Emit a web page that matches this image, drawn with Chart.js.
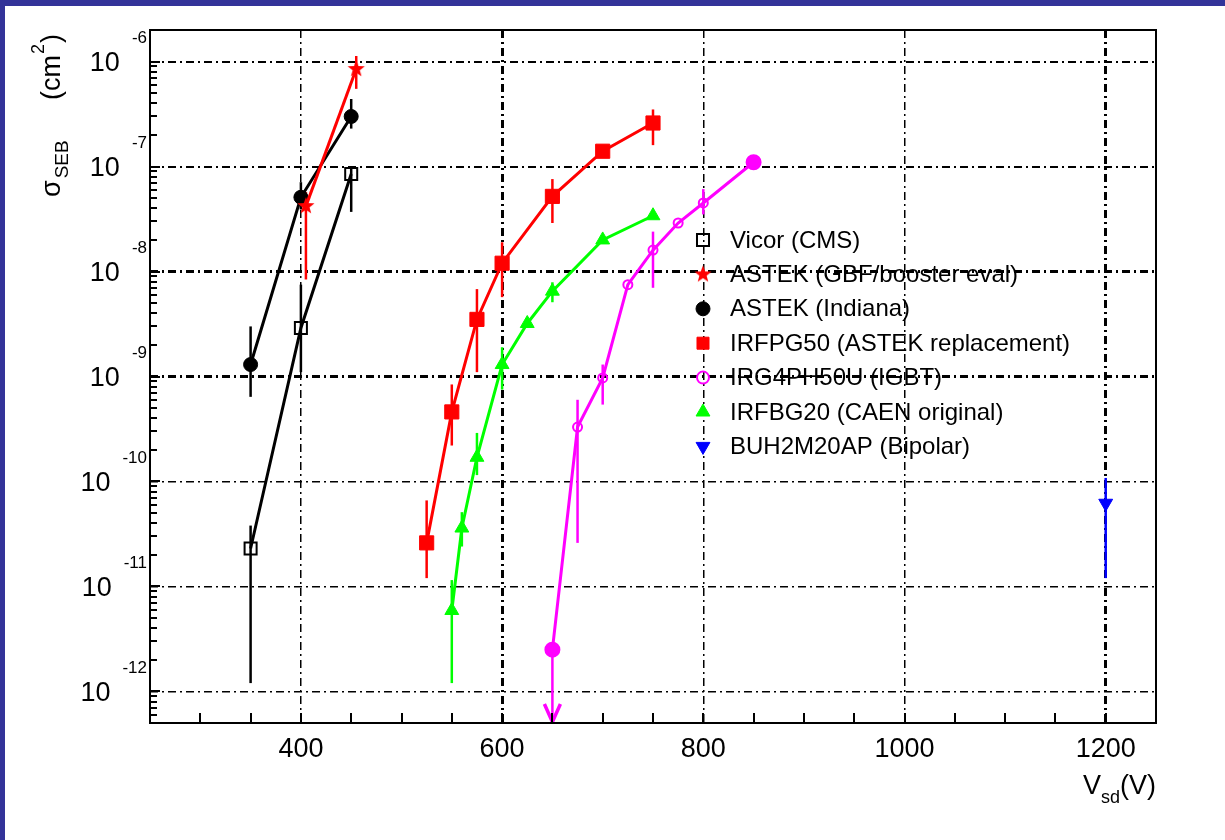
<!DOCTYPE html>
<html>
<head>
<meta charset="utf-8">
<script src="https://cdn.jsdelivr.net/npm/chart.js"></script>
<style>
  body { margin: 0; background: #333399; width: 1225px; height: 840px; overflow: hidden; }
  #paper { position: absolute; left: 5px; top: 6px; width: 1220px; height: 834px; background: #fff; }
  #c { position: absolute; left: 0; top: 0; }
</style>
</head>
<body>
<div id="paper"></div>
<canvas id="c" width="1225" height="840"></canvas>
<script>
// ---- data (sigma in cm^2, V in volts) ----
const vicorV = [350, 400, 450];
const vicorSigma = [2.3e-11, 2.9e-9, 8.5e-8];
const vicorHi = [3.8e-11, 7.5e-9, 1.0e-7];
const vicorLo = [1.2e-12, 1.1e-9, 3.7e-8];

const gbfV = [405, 455];
const gbfSigma = [4.2e-8, 8.5e-7];
const gbfHi = [5.7e-8, 1.13e-6];
const gbfLo = [8.4e-9, 5.5e-7];

const indianaV = [350, 400, 450];
const indianaSigma = [1.3e-9, 5.1e-8, 3.0e-7];
const indianaHi = [3.0e-9, 7.1e-8, 4.4e-7];
const indianaLo = [6.4e-10, 3.9e-8, 2.3e-7];

const pg50V = [525, 550, 575, 600, 650, 700, 750];
const pg50Sigma = [2.6e-11, 4.6e-10, 3.5e-9, 1.2e-8, 5.2e-8, 1.4e-7, 2.6e-7];
const pg50Hi = [6.6e-11, 8.4e-10, 6.8e-9, 1.9e-8, 7.6e-8, null, 3.5e-7];
const pg50Lo = [1.2e-11, 2.2e-10, 1.1e-9, 5.7e-9, 2.9e-8, null, 1.6e-7];

const igbtV = [650, 675, 700, 725, 750, 775, 800, 850];
const igbtSigma = [2.5e-12, 3.3e-10, 9.7e-10, 7.5e-9, 1.6e-8, 2.9e-8, 4.5e-8, 1.1e-7];
const igbtHi = [null, 6.0e-10, 1.3e-9, null, 2.4e-8, null, 6.1e-8, null];
const igbtLo = [0, 2.6e-11, 5.4e-10, null, 7.0e-9, null, 3.5e-8, null]; // 0 = upper limit arrow

const bg20V = [550, 560, 575, 600, 625, 650, 700, 750];
const bg20Sigma = [5.9e-12, 3.6e-11, 1.7e-10, 1.3e-9, 3.2e-9, 6.5e-9, 2.0e-8, 3.4e-8];
const bg20Hi = [1.15e-11, 5.1e-11, 2.9e-10, 1.9e-9, null, 7.9e-9, null, null];
const bg20Lo = [1.2e-12, 2.4e-11, 1.15e-10, 7.5e-10, null, 5.1e-9, null, null];

const bipolarV = [1200];
const bipolarSigma = [6.2e-11];
const bipolarHi = [1.08e-10];
const bipolarLo = [1.2e-11];

const xMajor = [400, 600, 800, 1000, 1200];
const yDecades = [-12, -11, -10, -9, -8, -7, -6];

const FONT = "'Liberation Sans', Arial, sans-serif";

function pts(xs, ys) {
  return xs.map((x, i) => ({x: x, y: ys[i]}));
}

// filled star marker (ROOT style 29)
function starImage(color, r) {
  const c = document.createElement('canvas');
  c.width = c.height = r * 2 + 2;
  const g = c.getContext('2d');
  g.fillStyle = color;
  g.beginPath();
  for (let i = 0; i < 10; i++) {
    const rr = i % 2 ? r * 0.42 : r;
    const a = -Math.PI / 2 + i * Math.PI / 5;
    g.lineTo(r + 1 + rr * Math.cos(a), r + 1 + rr * Math.sin(a));
  }
  g.closePath();
  g.fill();
  return c;
}
const redStar = starImage('#ff0000', 9);

const datasets = [
  {label: 'Vicor (CMS)', data: pts(vicorV, vicorSigma), errHi: vicorHi, errLo: vicorLo,
   borderColor: '#000', pointStyle: 'rect', pointRadius: 8.5, pointBorderWidth: 2,
   pointBackgroundColor: 'rgba(0,0,0,0)', pointBorderColor: '#000'},
  {label: 'ASTEK (GBF/booster eval)', data: pts(gbfV, gbfSigma), errHi: gbfHi, errLo: gbfLo,
   borderColor: '#ff0000', pointStyle: redStar, pointRadius: 9,
   pointBackgroundColor: '#ff0000', pointBorderColor: '#ff0000'},
  {label: 'ASTEK (Indiana)', data: pts(indianaV, indianaSigma), errHi: indianaHi, errLo: indianaLo,
   borderColor: '#000', pointStyle: 'circle', pointRadius: 7, pointBorderWidth: 1,
   pointBackgroundColor: '#000', pointBorderColor: '#000'},
  {label: 'IRFPG50 (ASTEK replacement)', data: pts(pg50V, pg50Sigma), errHi: pg50Hi, errLo: pg50Lo,
   borderColor: '#ff0000', pointStyle: 'rect', pointRadius: 10, pointBorderWidth: 1,
   pointBackgroundColor: '#ff0000', pointBorderColor: '#ff0000'},
  {label: 'IRG4PH50U (IGBT)', data: pts(igbtV, igbtSigma), errHi: igbtHi, errLo: igbtLo,
   borderColor: '#ff00ff', pointStyle: 'circle',
   pointRadius: [7, 4.5, 4.5, 4.5, 4.5, 4.5, 4.5, 7], pointBorderWidth: 2,
   pointBackgroundColor: ['#ff00ff', 'rgba(0,0,0,0)', 'rgba(0,0,0,0)', 'rgba(0,0,0,0)',
     'rgba(0,0,0,0)', 'rgba(0,0,0,0)', 'rgba(0,0,0,0)', '#ff00ff'],
   pointBorderColor: '#ff00ff'},
  {label: 'IRFBG20 (CAEN original)', data: pts(bg20V, bg20Sigma), errHi: bg20Hi, errLo: bg20Lo,
   borderColor: '#00ff00', pointStyle: 'triangle', pointRadius: 8, pointBorderWidth: 1,
   pointBackgroundColor: '#00ff00', pointBorderColor: '#00ff00'},
  {label: 'BUH2M20AP (Bipolar)', data: pts(bipolarV, bipolarSigma), errHi: bipolarHi, errLo: bipolarLo,
   borderColor: '#0000ff', pointStyle: 'triangle', pointRotation: 180, pointRadius: 8, pointBorderWidth: 1,
   pointBackgroundColor: '#0000ff', pointBorderColor: '#0000ff'}
];
datasets.forEach(d => { d.showLine = true; d.borderWidth = 3; d.fill = false; d.tension = 0; });

const rootStyle = {
  id: 'rootStyle',
  beforeDatasetsDraw(chart) {
    // error bars
    const {ctx, chartArea: a} = chart;
    const xs = chart.scales.x, ys = chart.scales.y;
    ctx.save();
    ctx.beginPath();
    ctx.rect(a.left, a.top, a.right - a.left, a.bottom - a.top);
    ctx.clip();
    chart.data.datasets.forEach(ds => {
      ctx.strokeStyle = ds.borderColor;
      ctx.lineWidth = 2.5;
      ds.data.forEach((p, i) => {
        const hi = ds.errHi[i], lo = ds.errLo[i];
        if (hi === null && lo === null) return;
        const px = xs.getPixelForValue(p.x);
        const yTop = ys.getPixelForValue(hi === null ? p.y : hi);
        const limit = lo !== null && lo <= ys.min;
        const yBot = limit ? a.bottom - 1 : ys.getPixelForValue(lo === null ? p.y : lo);
        ctx.beginPath();
        ctx.moveTo(px, yTop);
        ctx.lineTo(px, yBot);
        ctx.stroke();
        if (limit) {
          ctx.lineWidth = 3.5;
          ctx.beginPath();
          ctx.moveTo(px - 8, yBot - 18);
          ctx.lineTo(px, yBot);
          ctx.lineTo(px + 8, yBot - 18);
          ctx.stroke();
          ctx.lineWidth = 2.5;
        }
      });
    });
    ctx.restore();
  },
  afterDraw(chart) {
    const {ctx, chartArea: a} = chart;
    const xs = chart.scales.x, ys = chart.scales.y;
    ctx.save();
    // frame
    ctx.strokeStyle = '#000';
    ctx.lineWidth = 2;
    ctx.strokeRect(a.left, a.top, a.right - a.left, a.bottom - a.top);
    // x ticks (every 50 V)
    ctx.lineWidth = 2;
    for (let v = 300; v < xs.max; v += 50) {
      const px = Math.round(xs.getPixelForValue(v));
      ctx.beginPath();
      ctx.moveTo(px, a.bottom);
      ctx.lineTo(px, a.bottom - 10);
      ctx.stroke();
    }
    // y ticks, decades and minors
    for (let e = -13; e <= -6; e++) {
      for (let k = 1; k <= 9; k++) {
        const v = k * Math.pow(10, e);
        if (v < ys.min || v > ys.max) continue;
        const py = Math.round(ys.getPixelForValue(v));
        ctx.beginPath();
        ctx.moveTo(a.left, py);
        ctx.lineTo(a.left + (k === 1 ? 10 : 7), py);
        ctx.stroke();
      }
    }
    // y tick labels 10^n
    ctx.fillStyle = '#000';
    ctx.textBaseline = 'middle';
    ctx.textAlign = 'right';
    yDecades.forEach(e => {
      const py = ys.getPixelForValue(Math.pow(10, e));
      ctx.font = '17px ' + FONT;
      const s = String(e);
      const w = ctx.measureText(s).width;
      ctx.fillText(s, 147, py - 23);
      ctx.font = '27px ' + FONT;
      ctx.fillText('10', 147 - w - 12, py + 2);
    });
    // x title  V_sd(V)
    ctx.textAlign = 'left';
    ctx.font = '27px ' + FONT;
    const wV = ctx.measureText('V').width, wP = ctx.measureText('(V)').width;
    ctx.font = '18px ' + FONT;
    const wS = ctx.measureText('sd').width;
    let x0 = a.right - (wV + wS + wP);
    ctx.font = '27px ' + FONT;
    ctx.fillText('V', x0, 787);
    ctx.font = '18px ' + FONT;
    ctx.fillText('sd', x0 + wV, 798);
    ctx.font = '27px ' + FONT;
    ctx.fillText('(V)', x0 + wV + wS, 787);
    // y title  sigma_SEB (cm^2)
    ctx.save();
    ctx.translate(53, 197);
    ctx.rotate(-Math.PI / 2);
    ctx.font = '27px ' + FONT;
    ctx.fillText('\u03c3', 0, 0);
    let t = ctx.measureText('\u03c3').width;
    ctx.font = '19px ' + FONT;
    ctx.fillText('SEB', t + 2, 10);
    ctx.font = '27px ' + FONT;
    ctx.fillText('(cm', 97, 0);
    t = 97 + ctx.measureText('(cm').width;
    ctx.font = '18px ' + FONT;
    ctx.fillText('2', t + 1, -14);
    t += ctx.measureText('2').width + 2;
    ctx.font = '27px ' + FONT;
    ctx.fillText(')', t, 0);
    ctx.restore();
    // legend (markers only, transparent box)
    ctx.font = '24px ' + FONT;
    ctx.textAlign = 'left';
    chart.data.datasets.forEach((ds, i) => {
      const ly = 240 + i * 34.4;
      const bg = Array.isArray(ds.pointBackgroundColor) ? ds.pointBackgroundColor[1] : ds.pointBackgroundColor;
      const r = Array.isArray(ds.pointRadius) ? ds.pointRadius[1] + 1.5 : ds.pointRadius;
      ctx.fillStyle = bg;
      ctx.strokeStyle = ds.pointBorderColor;
      ctx.lineWidth = ds.pointBorderWidth || 1;
      Chart.helpers.drawPoint(ctx, {
        pointStyle: ds.pointStyle, radius: Math.min(r, 8.5), rotation: ds.pointRotation || 0,
        borderWidth: ds.pointBorderWidth || 0
      }, 703, ly);
      ctx.fillStyle = '#000';
      ctx.fillText(ds.label, 730, ly + 1);
    });
    ctx.restore();
  }
};

new Chart(document.getElementById('c'), {
  type: 'scatter',
  data: {datasets: datasets},
  plugins: [rootStyle],
  options: {
    responsive: false,
    animation: false,
    layout: {padding: {top: 30, right: 69, left: 0, bottom: 0}},
    plugins: {legend: {display: false}, tooltip: {enabled: false}},
    scales: {
      x: {
        type: 'linear', min: 250, max: 1250,
        afterBuildTicks: s => { s.ticks = xMajor.map(v => ({value: v})); },
        afterFit: s => { s.height = 117; },
        ticks: {font: {family: FONT, size: 27}, color: '#000', padding: 10, maxRotation: 0,
                callback: v => String(v)},
        grid: {color: '#000', drawTicks: false, borderDash: [8, 4, 2, 4],
               lineWidth: c => (c.tick && (c.tick.value === 600 || c.tick.value === 1200)) ? 3 : 1.5},
        border: {display: false, dash: [8, 4, 2, 4]}
      },
      y: {
        type: 'logarithmic', min: 5e-13, max: 2e-6,
        afterBuildTicks: s => { s.ticks = yDecades.map(e => ({value: Math.pow(10, e)})); },
        afterFit: s => { s.width = 150; },
        ticks: {display: false},
        grid: {color: '#000', drawTicks: false, borderDash: [8, 4, 2, 4],
               lineWidth: c => {
                 if (!c.tick) return 1.5;
                 const e = Math.round(Math.log10(c.tick.value));
                 return (e === -8 || e === -9) ? 3 : (e >= -7 ? 2 : 1.5);
               }},
        border: {display: false, dash: [8, 4, 2, 4]}
      }
    }
  }
});
</script>
</body>
</html>
